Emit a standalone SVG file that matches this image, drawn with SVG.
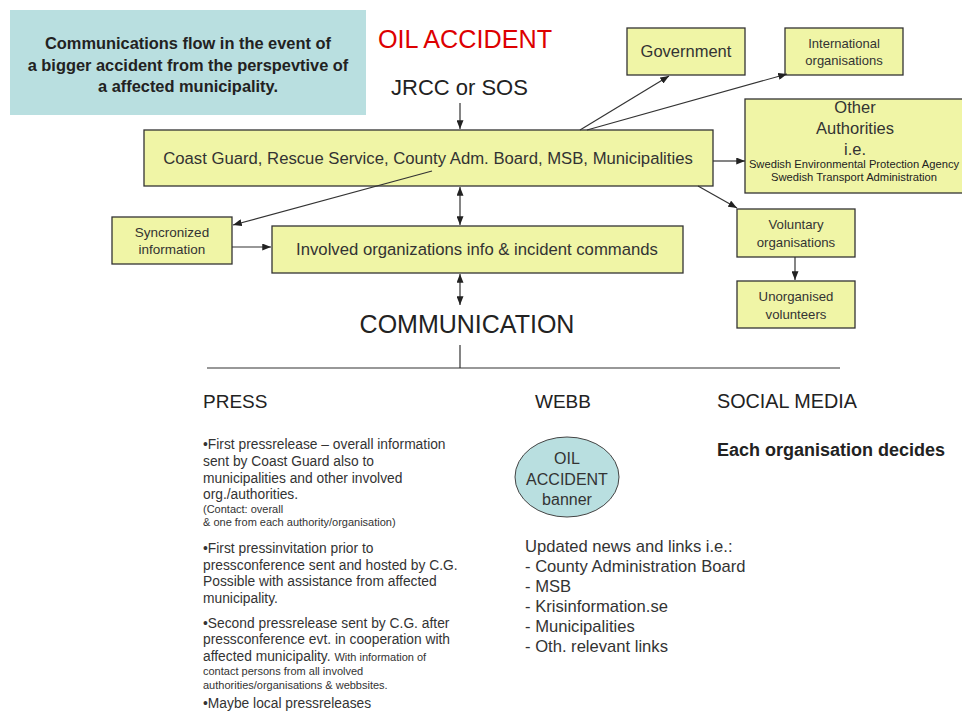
<svg xmlns="http://www.w3.org/2000/svg" width="962" height="711" viewBox="0 0 962 711">
<defs>
<style>
text{font-family:"Liberation Sans",Arial,sans-serif;fill:#222}
.box{fill:#f0f5a6;stroke:#333;stroke-width:1.3}
.c{text-anchor:middle}
.con line{stroke:#333;stroke-width:1.2}
.p{font-size:13.8px;fill:#333}
.s{font-size:11px;fill:#333}
.w{font-size:16.6px;fill:#333}
</style>
<marker id="ah" viewBox="0 0 10 8" refX="10" refY="4" markerWidth="9" markerHeight="7" markerUnits="userSpaceOnUse" orient="auto-start-reverse">
<path d="M0,0 L10,4 L0,8 z" fill="#222"/>
</marker>
</defs>
<rect width="962" height="711" fill="#fff"/>

<g id="title">
<rect x="10" y="10" width="356" height="105" fill="#b9dfe0"/>
<text class="c" x="188" y="49" font-size="16.4" font-weight="bold">Communications flow in the event of</text>
<text class="c" x="188" y="71" font-size="16.4" font-weight="bold">a bigger accident from the perspevtive of</text>
<text class="c" x="188" y="92" font-size="16.4" font-weight="bold">a affected municipality.</text>
</g>

<g id="oil-accident"><text x="378" y="48" font-size="25.2" style="fill:#d00">OIL ACCIDENT</text></g>
<g id="jrcc"><text x="391" y="95" font-size="22">JRCC or SOS</text></g>

<g id="main">
<rect class="box" x="144" y="130" width="569" height="56"/>
<text class="c" x="428" y="164" font-size="16.7" style="fill:#333">Coast Guard, Rescue Service, County Adm. Board, MSB, Municipalities</text>
</g>

<g id="government">
<rect class="box" x="627" y="28" width="118" height="47"/>
<text class="c" x="686" y="57" font-size="16.5" style="fill:#333">Government</text>
</g>

<g id="international">
<rect class="box" x="785" y="28" width="118" height="47"/>
<text class="c" x="844" y="48" font-size="13" style="fill:#333">International</text>
<text class="c" x="844" y="65" font-size="13" style="fill:#333">organisations</text>
</g>

<g id="other">
<rect class="box" x="745" y="99" width="222" height="94"/>
<text class="c" x="855" y="113" font-size="16.5" style="fill:#333">Other</text>
<text class="c" x="855" y="134" font-size="16.5" style="fill:#333">Authorities</text>
<text class="c" x="855" y="155" font-size="16.5" style="fill:#333">i.e.</text>
<text class="c" x="854" y="168" font-size="11.2" style="fill:#222">Swedish Environmental Protection Agency</text>
<text class="c" x="854" y="181" font-size="11.2" style="fill:#222">Swedish Transport Administration</text>
</g>

<g id="syncronized">
<rect class="box" x="112" y="217" width="120" height="47"/>
<text class="c" x="172" y="237" font-size="13.5" style="fill:#333">Syncronized</text>
<text class="c" x="172" y="254" font-size="13.5" style="fill:#333">information</text>
</g>

<g id="involved">
<rect class="box" x="272" y="226" width="411" height="47"/>
<text class="c" x="477" y="255" font-size="16.7" style="fill:#333">Involved organizations info &amp; incident commands</text>
</g>

<g id="voluntary">
<rect class="box" x="737" y="209" width="118" height="48"/>
<text class="c" x="796" y="229" font-size="13.2" style="fill:#333">Voluntary</text>
<text class="c" x="796" y="247" font-size="13.2" style="fill:#333">organisations</text>
</g>

<g id="unorganised">
<rect class="box" x="737" y="281" width="118" height="47"/>
<text class="c" x="796" y="301" font-size="13.2" style="fill:#333">Unorganised</text>
<text class="c" x="796" y="319" font-size="13.2" style="fill:#333">volunteers</text>
</g>

<g id="communication"><text class="c" x="467" y="333" font-size="25">COMMUNICATION</text></g>

<g class="con" id="connectors">
<line x1="460" y1="103" x2="460" y2="129" marker-end="url(#ah)"/>
<line x1="580" y1="130" x2="669" y2="76" marker-end="url(#ah)"/>
<line x1="587" y1="130" x2="787" y2="74" marker-end="url(#ah)"/>
<line x1="713" y1="161" x2="745" y2="161" marker-end="url(#ah)"/>
<line x1="698" y1="186" x2="737" y2="208" marker-end="url(#ah)"/>
<line x1="432" y1="171" x2="233" y2="225" marker-end="url(#ah)"/>
<line x1="460" y1="187" x2="460" y2="225" marker-start="url(#ah)" marker-end="url(#ah)"/>
<line x1="232" y1="247" x2="271" y2="247" marker-end="url(#ah)"/>
<line x1="460" y1="274" x2="460" y2="305" marker-start="url(#ah)" marker-end="url(#ah)"/>
<line x1="795" y1="257" x2="795" y2="280" marker-end="url(#ah)"/>
<line x1="460" y1="345" x2="460" y2="368"/>
<line x1="207" y1="368" x2="840" y2="368"/>
</g>

<g id="press">
<text x="203" y="408" font-size="19">PRESS</text>
<text class="p" x="203" y="449">•First pressrelease – overall information</text>
<text class="p" x="203" y="466">sent by Coast Guard also to</text>
<text class="p" x="203" y="483">municipalities and other involved</text>
<text class="p" x="203" y="499">org./authorities.</text>
<text class="s" x="203" y="513">(Contact: overall</text>
<text class="s" x="203" y="526">&amp; one from each authority/organisation)</text>
<text class="p" x="203" y="553">•First pressinvitation prior to</text>
<text class="p" x="203" y="570">pressconference sent and hosted by C.G.</text>
<text class="p" x="203" y="586">Possible with assistance from affected</text>
<text class="p" x="203" y="603">municipality.</text>
<text class="p" x="203" y="628">•Second pressrelease sent by C.G. after</text>
<text class="p" x="203" y="644">pressconference evt. in cooperation with</text>
<text class="p" x="203" y="661">affected municipality. <tspan font-size="11">With information of</tspan></text>
<text class="s" x="203" y="675">contact persons from all involved</text>
<text class="s" x="203" y="689">authorities/organisations &amp; webbsites.</text>
<text class="p" x="203" y="708">•Maybe local pressreleases</text>
</g>

<g id="webb">
<text x="535" y="408" font-size="19">WEBB</text>
<ellipse cx="567" cy="477" rx="52" ry="40" fill="#b9dfe0" stroke="#444" stroke-width="1"/>
<text class="c" x="567" y="464" font-size="16" style="fill:#333">OIL</text>
<text class="c" x="567" y="485" font-size="16" style="fill:#333">ACCIDENT</text>
<text class="c" x="567" y="505" font-size="16" style="fill:#333">banner</text>
<text class="w" x="525" y="552">Updated news and links i.e.:</text>
<text class="w" x="525" y="572">- County Administration Board</text>
<text class="w" x="525" y="592">- MSB</text>
<text class="w" x="525" y="612">- Krisinformation.se</text>
<text class="w" x="525" y="632">- Municipalities</text>
<text class="w" x="525" y="652">- Oth. relevant links</text>
</g>

<g id="social">
<text x="717" y="408" font-size="19.8">SOCIAL MEDIA</text>
<text x="717" y="456" font-size="18" font-weight="bold">Each organisation decides</text>
</g>
</svg>
